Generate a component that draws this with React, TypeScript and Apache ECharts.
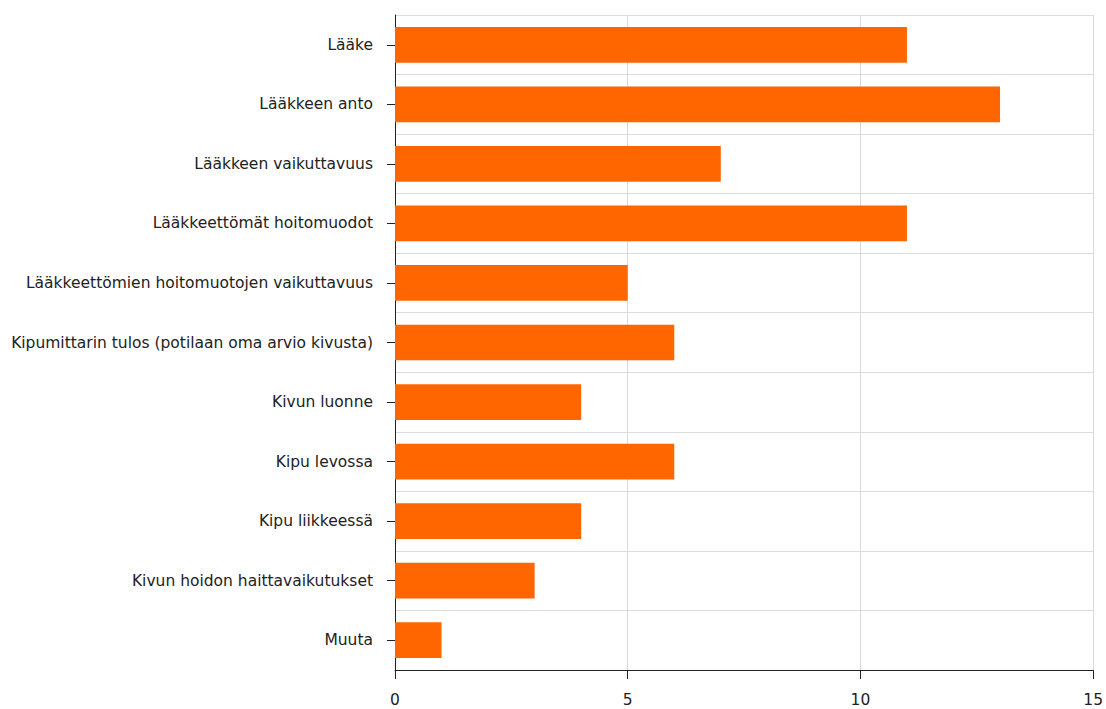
import React, { useEffect, useRef } from "react";
import * as echarts from "echarts";

const categories = [
  "Lääke",
  "Lääkkeen anto",
  "Lääkkeen vaikuttavuus",
  "Lääkkeettömät hoitomuodot",
  "Lääkkeettömien hoitomuotojen vaikuttavuus",
  "Kipumittarin tulos (potilaan oma arvio kivusta)",
  "Kivun luonne",
  "Kipu levossa",
  "Kipu liikkeessä",
  "Kivun hoidon haittavaikutukset",
  "Muuta",
];
const values = [11, 13, 7, 11, 5, 6, 4, 6, 4, 3, 1];
const xTicks = { min: 0, max: 15, interval: 5 };

export default function App() {
  const ref = useRef<HTMLDivElement>(null);
  useEffect(() => {
    if (!ref.current) return;
    const chart = echarts.init(ref.current, undefined, { renderer: "svg" });
    const font = "'DejaVu Sans', sans-serif";
    chart.setOption({
      animation: false,
      backgroundColor: "#ffffff",
      grid: { left: 395, right: 12, top: 15, bottom: 39, containLabel: false },
      xAxis: {
        type: "value",
        min: xTicks.min,
        max: xTicks.max,
        interval: xTicks.interval,
        axisLine: { show: true, lineStyle: { color: "#222", width: 1 } },
        axisTick: { show: true, length: 9, lineStyle: { color: "#222" } },
        axisLabel: { color: "#222", fontSize: 15.5, fontFamily: font, margin: 22 },
        splitLine: { show: true, lineStyle: { color: "#d9d6dc", width: 1 } },
      },
      yAxis: {
        type: "category",
        inverse: true,
        data: categories,
        axisLine: { show: true, lineStyle: { color: "#222", width: 1 } },
        axisTick: { show: true, alignWithLabel: true, length: 8, lineStyle: { color: "#222" } },
        axisLabel: { color: "#222", fontSize: 15.5, fontFamily: font, margin: 22 },
        splitLine: { show: true, lineStyle: { color: "#dcdcdc", width: 1 } },
      },
      series: [
        {
          type: "bar",
          data: values,
          barWidth: "60%",
          itemStyle: { color: "#ff6600" },
        },
      ],
    });
    return () => chart.dispose();
  }, []);
  return (
    <div
      ref={ref}
      style={{ position: "fixed", left: 0, top: 0, width: 1106, height: 709, background: "#fff" }}
    />
  );
}
